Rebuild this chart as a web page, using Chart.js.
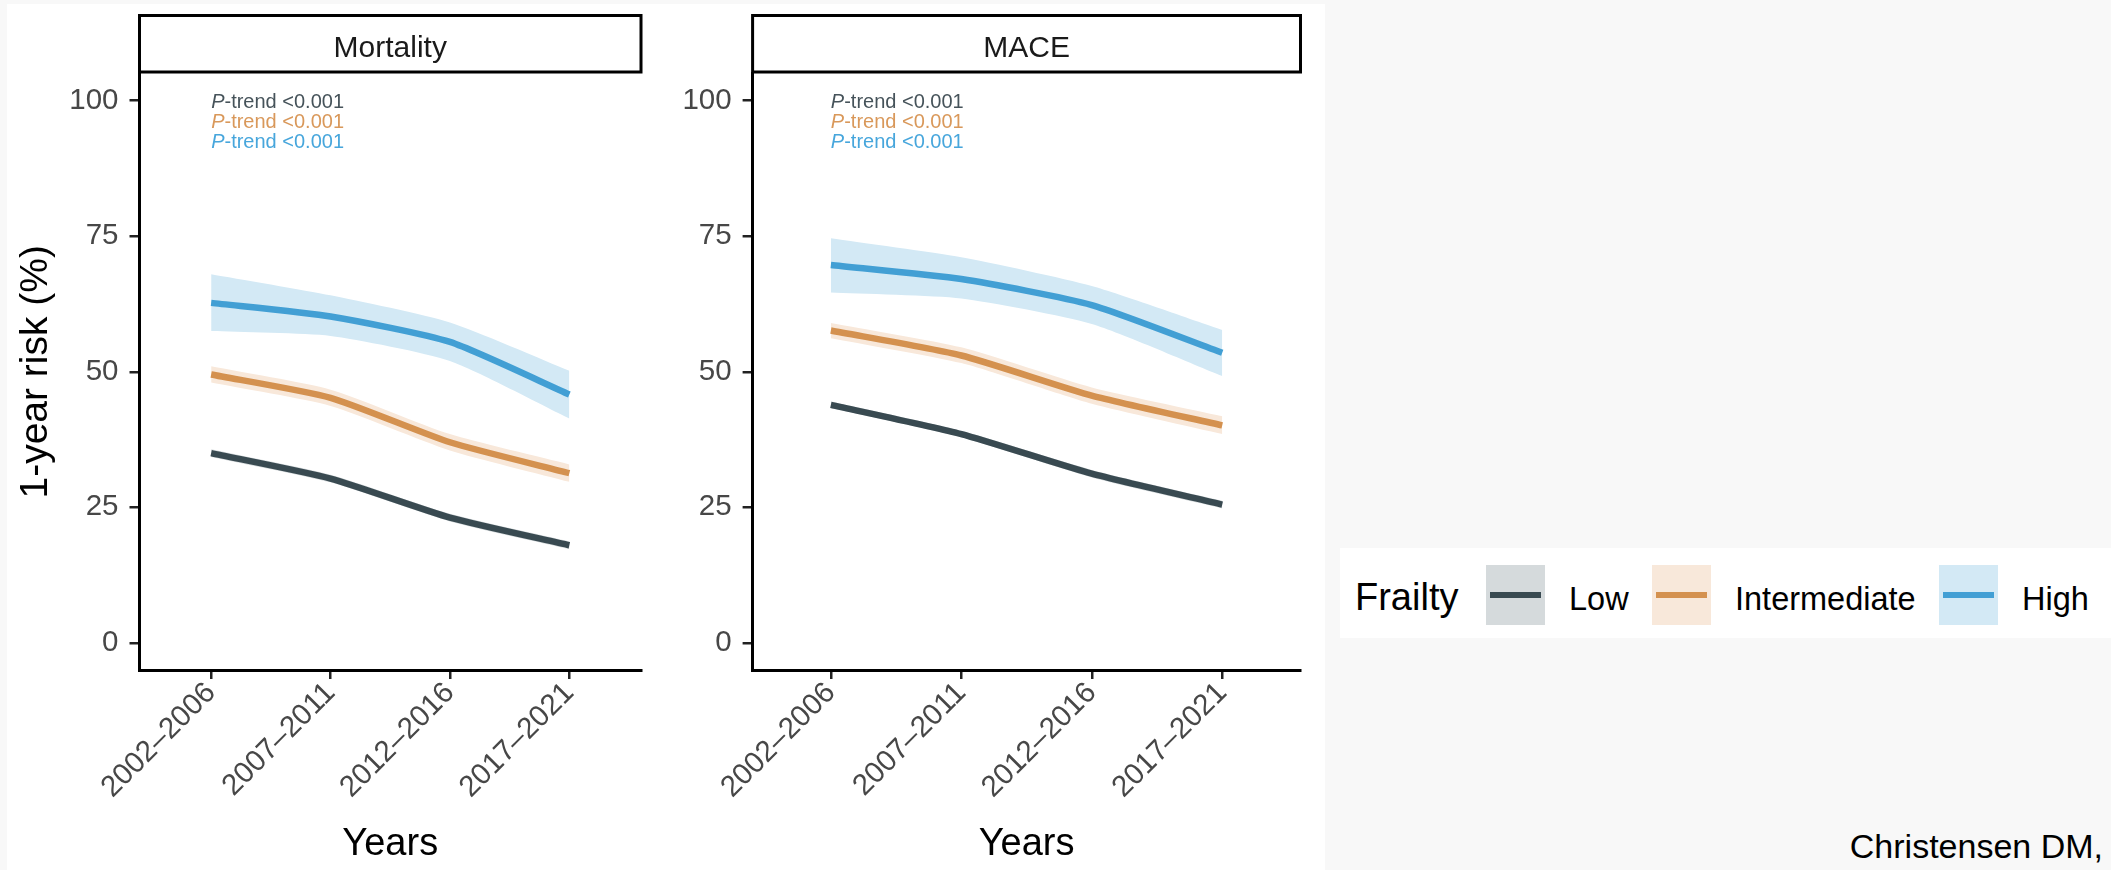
<!DOCTYPE html>
<html>
<head>
<meta charset="utf-8">
<script src="https://cdn.jsdelivr.net/npm/chart.js@4.4.1/dist/chart.umd.min.js"></script>
<style>
  html, body { margin: 0; padding: 0; width: 2111px; height: 870px; overflow: hidden;
    background: #f8f8f8; font-family: "Liberation Sans", Arial, Helvetica, sans-serif; }
  #sheet { position: absolute; left: 7px; top: 4px; width: 1318px; height: 866px; background: #ffffff; }
  canvas { position: absolute; top: 0; }
  #mortality { left: 0; }
  #mace { left: 660px; }
  #legend { position: absolute; left: 1340px; top: 548px; width: 771px; height: 90px; background: #ffffff; }
  #legend .ttl { position: absolute; left: 15px; top: 30px; font-size: 38px; line-height: 1; color: #000; white-space: nowrap; }
  #legend .key { position: absolute; top: 17px; width: 59px; height: 60px; }
  #legend .key i { position: absolute; left: 4px; right: 4px; top: 27px; height: 6px; }
  #legend .lab { position: absolute; top: 34.5px; font-size: 32.5px; line-height: 1; color: #000; white-space: nowrap; }
  #cite { position: absolute; right: 8px; top: 829px; font-size: 34px; line-height: 1; color: #000; white-space: nowrap; }
</style>
</head>
<body>
<div id="sheet"></div>
<canvas id="mortality" width="700" height="870"></canvas>
<canvas id="mace" width="660" height="870"></canvas>
<div id="legend"></div>
<div id="cite">Christensen DM,</div>

<script>
// ---- categories and labels ----
const periods = ['2002–2006', '2007–2011', '2012–2016', '2017–2021'];
const frailtyLevels = ['Low', 'Intermediate', 'High'];
const yTicks = [0, 25, 50, 75, 100];

// ---- 1-year mortality (%), estimate with 95% CI ----
const mortLow      = [35.0, 30.3, 23.1, 18.0];
const mortLowLo    = [34.3, 29.6, 22.4, 17.3];
const mortLowHi    = [35.7, 31.0, 23.8, 18.7];
const mortInt      = [49.5, 45.2, 37.0, 31.3];
const mortIntLo    = [48.0, 43.7, 35.5, 29.7];
const mortIntHi    = [51.0, 46.7, 38.5, 32.9];
const mortHigh     = [62.7, 60.2, 55.5, 45.8];
const mortHighLo   = [57.5, 56.6, 52.0, 41.4];
const mortHighHi   = [68.0, 64.1, 59.1, 50.2];

// ---- 1-year MACE (%), estimate with 95% CI ----
const maceLow      = [43.9, 38.5, 31.2, 25.5];
const maceLowLo    = [43.3, 37.9, 30.5, 24.8];
const maceLowHi    = [44.5, 39.1, 31.9, 26.2];
const maceInt      = [57.6, 53.0, 45.6, 40.1];
const maceIntLo    = [56.2, 51.6, 44.1, 38.5];
const maceIntHi    = [59.0, 54.5, 47.1, 41.8];
const maceHigh     = [69.7, 67.1, 62.3, 53.5];
const maceHighLo   = [64.6, 63.5, 58.8, 49.2];
const maceHighHi   = [74.6, 71.1, 65.8, 57.7];

// ---- trend test annotations (one row per frailty level) ----
const mortTrend = ['<0.001', '<0.001', '<0.001'];
const maceTrend = ['<0.001', '<0.001', '<0.001'];
const trendRowY = [99.6, 95.9, 92.2];

// ---- styling ----
const lineColors = ['#394a51', '#d4914f', '#429fd4'];
const bandColors = ['#d5dadc', '#f8e8da', '#d3e9f5'];
const textColors = ['#46535a', '#d9985a', '#47a6dc'];
const FONT = '"Liberation Sans", Arial, Helvetica, sans-serif';
const TENSION = 0.2;

// legend
(function buildLegend() {
  const lg = document.getElementById('legend');
  const keyX = [146, 312, 599];
  const labX = [229, 395, 682];
  let html = '<span class="ttl">Frailty</span>';
  frailtyLevels.forEach((name, i) => {
    html += `<span class="key" style="left:${keyX[i]}px;background:${bandColors[i]}"><i style="background:${lineColors[i]}"></i></span>`;
    html += `<span class="lab" style="left:${labX[i]}px">${name}</span>`;
  });
  lg.innerHTML = html;
})();

function pts(arr) { return arr.map((v, i) => ({ x: i, y: v })); }

function buildDatasets(series) {
  const bands = [], lines = [];
  series.forEach((s, i) => {
    bands.push({
      label: frailtyLevels[i] + ' upper', data: pts(s.hi), fill: '+1',
      backgroundColor: bandColors[i], borderWidth: 0, pointRadius: 0, tension: TENSION, order: 5
    });
    bands.push({
      label: frailtyLevels[i] + ' lower', data: pts(s.lo), fill: false,
      borderWidth: 0, pointRadius: 0, tension: TENSION, order: 5
    });
    lines.push({
      label: frailtyLevels[i], data: pts(s.est), fill: false,
      borderColor: lineColors[i], borderWidth: 6.5, pointRadius: 0,
      borderJoinStyle: 'round', tension: TENSION, order: 1
    });
  });
  return bands.concat(lines);
}

// facet strip above the panel
const stripPlugin = {
  id: 'strip',
  afterDraw(chart, args, opts) {
    const { ctx, chartArea } = chart;
    ctx.save();
    ctx.fillStyle = '#ffffff';
    ctx.strokeStyle = '#000000';
    ctx.lineWidth = 3;
    const top = 15.5, bottom = 72;
    ctx.fillRect(chartArea.left, top, chartArea.right - chartArea.left, bottom - top);
    ctx.strokeRect(chartArea.left, top, chartArea.right - chartArea.left, bottom - top);
    ctx.fillStyle = '#1a1a1a';
    ctx.font = '30px ' + FONT;
    ctx.textAlign = 'center';
    ctx.textBaseline = 'alphabetic';
    ctx.fillText(opts.title, (chartArea.left + chartArea.right) / 2, 56.5);
    ctx.restore();
  }
};

// P-trend labels anchored to the first period
const trendPlugin = {
  id: 'trend',
  afterDatasetsDraw(chart, args, opts) {
    const { ctx, scales } = chart;
    const x0 = scales.x.getPixelForValue(0);
    ctx.save();
    ctx.textBaseline = 'middle';
    ctx.textAlign = 'left';
    opts.values.forEach((val, i) => {
      const y = scales.y.getPixelForValue(trendRowY[i]);
      ctx.fillStyle = textColors[i];
      ctx.font = 'italic 20px ' + FONT;
      ctx.fillText('P', x0, y);
      const w = ctx.measureText('P').width;
      ctx.font = '20px ' + FONT;
      ctx.fillText('-trend ' + val, x0 + w, y);
    });
    ctx.restore();
  }
};

function makePanel(id, cfg) {
  const axisBlack = '#000000';
  return new Chart(document.getElementById(id), {
    type: 'line',
    data: { datasets: buildDatasets(cfg.series) },
    plugins: [stripPlugin, trendPlugin],
    options: {
      responsive: false,
      animation: false,
      devicePixelRatio: 1,
      layout: { padding: { top: 73.5, right: cfg.padRight, left: 0, bottom: 0 } },
      plugins: {
        legend: { display: false },
        tooltip: { enabled: false },
        strip: { title: cfg.title },
        trend: { values: cfg.trend }
      },
      scales: {
        x: {
          type: 'linear', min: -0.6, max: 3.6,
          afterBuildTicks: s => { s.ticks = periods.map((_, i) => ({ value: i })); },
          afterFit: s => { s.height = 200; },
          grid: { display: true, drawOnChartArea: false, drawTicks: true, tickLength: 9,
                  tickColor: '#222', tickWidth: 2.5, lineWidth: 2.5 },
          border: { display: true, color: axisBlack, width: 3 },
          ticks: {
            autoSkip: false, minRotation: 45, maxRotation: 45, padding: -7,
            color: '#474747', font: { family: FONT, size: 29.5, lineHeight: 1.55 },
            callback: v => periods[v]
          },
          title: { display: true, text: 'Years', color: '#000', font: { family: FONT, size: 38 },
                   padding: { top: 0, bottom: 3 } }
        },
        y: {
          type: 'linear', min: -5, max: 105,
          afterBuildTicks: s => { s.ticks = yTicks.map(v => ({ value: v })); },
          afterFit: s => { s.width = cfg.yWidth; },
          grid: { display: true, drawOnChartArea: false, drawTicks: true, tickLength: 10,
                  tickColor: '#222', tickWidth: 2.5, lineWidth: 2.5 },
          border: { display: true, color: axisBlack, width: 3 },
          ticks: { padding: 11, color: '#474747', font: { family: FONT, size: 29.5 } },
          title: { display: cfg.yTitle, text: '1-year risk (%)', color: '#000',
                   font: { family: FONT, size: 39 }, padding: { top: 13, bottom: 0 } }
        }
      }
    }
  });
}

makePanel('mortality', {
  title: 'Mortality', yWidth: 139.5, padRight: 59, yTitle: true, trend: mortTrend,
  series: [
    { est: mortLow,  lo: mortLowLo,  hi: mortLowHi },
    { est: mortInt,  lo: mortIntLo,  hi: mortIntHi },
    { est: mortHigh, lo: mortHighLo, hi: mortHighHi }
  ]
});

makePanel('mace', {
  title: 'MACE', yWidth: 92.6, padRight: 19.5, yTitle: false, trend: maceTrend,
  series: [
    { est: maceLow,  lo: maceLowLo,  hi: maceLowHi },
    { est: maceInt,  lo: maceIntLo,  hi: maceIntHi },
    { est: maceHigh, lo: maceHighLo, hi: maceHighHi }
  ]
});
</script>
</body>
</html>
